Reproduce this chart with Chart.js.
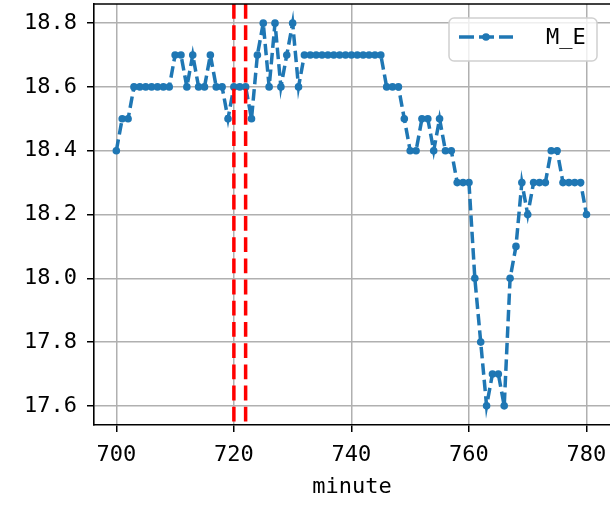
<!DOCTYPE html>
<html>
<head>
<meta charset="utf-8">
<script src="https://cdn.jsdelivr.net/npm/chart.js@4"></script>
<style>
  html, body { margin: 0; padding: 0; background: #fff; }
</style>
</head>
<body>
<canvas id="myChart" width="610" height="509"></canvas>
<script>
// minute-by-minute readings of M_E
const minutes = [700, 701, 702, 703, 704, 705, 706, 707, 708, 709,
                 710, 711, 712, 713, 714, 715, 716, 717, 718, 719,
                 720, 721, 722, 723, 724, 725, 726, 727, 728, 729,
                 730, 731, 732, 733, 734, 735, 736, 737, 738, 739,
                 740, 741, 742, 743, 744, 745, 746, 747, 748, 749,
                 750, 751, 752, 753, 754, 755, 756, 757, 758, 759,
                 760, 761, 762, 763, 764, 765, 766, 767, 768, 769,
                 770, 771, 772, 773, 774, 775, 776, 777, 778, 779, 780];
const me_values = [18.4, 18.5, 18.5, 18.6, 18.6, 18.6, 18.6, 18.6, 18.6, 18.6,
                   18.7, 18.7, 18.6, 18.7, 18.6, 18.6, 18.7, 18.6, 18.6, 18.5,
                   18.6, 18.6, 18.6, 18.5, 18.7, 18.8, 18.6, 18.8, 18.6, 18.7,
                   18.8, 18.6, 18.7, 18.7, 18.7, 18.7, 18.7, 18.7, 18.7, 18.7,
                   18.7, 18.7, 18.7, 18.7, 18.7, 18.7, 18.6, 18.6, 18.6, 18.5,
                   18.4, 18.4, 18.5, 18.5, 18.4, 18.5, 18.4, 18.4, 18.3, 18.3,
                   18.3, 18.0, 17.8, 17.6, 17.7, 17.7, 17.6, 18.0, 18.1, 18.3,
                   18.2, 18.3, 18.3, 18.3, 18.4, 18.4, 18.3, 18.3, 18.3, 18.3, 18.2];
const markLines = [720, 722];   // red dashed verticals
const xTicks = [700, 720, 740, 760, 780];
const yTicks = [17.6, 17.8, 18.0, 18.2, 18.4, 18.6, 18.8];
const xRange = [696.2, 784];
const yRange = [17.54, 18.86];
const seriesName = 'M_E';

const blue = '#1f77b4';
const fontFam = '"DejaVu Sans Mono", "Liberation Mono", monospace';
const fontSize = 22;

const points = minutes.map((m, i) => ({x: m, y: me_values[i]}));

// top spine, red verticals and the legend box
const extras = {
    id: 'extras',
    afterDatasetsDraw(chart) {
        const ctx = chart.ctx, a = chart.chartArea, xs = chart.scales.x;
        ctx.save();
        ctx.beginPath();
        ctx.rect(a.left, a.top, a.right - a.left, a.bottom - a.top);
        ctx.clip();
        ctx.strokeStyle = 'red';
        ctx.lineWidth = 3.5;
        ctx.setLineDash([14.8, 6.4]);
        for (const m of markLines) {
            const px = xs.getPixelForValue(m);
            ctx.beginPath();
            ctx.moveTo(px, a.top);
            ctx.lineTo(px, a.bottom);
            ctx.stroke();
        }
        ctx.restore();
    },
    afterDraw(chart) {
        const ctx = chart.ctx, a = chart.chartArea;
        ctx.save();
        ctx.strokeStyle = '#000';
        ctx.lineWidth = 1.6;
        ctx.beginPath();
        ctx.moveTo(a.left, a.top);
        ctx.lineTo(a.right, a.top);
        ctx.stroke();

        // legend
        const bx = 449, by = 18, bw = 148, bh = 43, r = 5;
        ctx.beginPath();
        ctx.moveTo(bx + r, by);
        ctx.arcTo(bx + bw, by, bx + bw, by + bh, r);
        ctx.arcTo(bx + bw, by + bh, bx, by + bh, r);
        ctx.arcTo(bx, by + bh, bx, by, r);
        ctx.arcTo(bx, by, bx + bw, by, r);
        ctx.closePath();
        ctx.fillStyle = 'rgba(255,255,255,0.8)';
        ctx.fill();
        ctx.strokeStyle = '#d0d0d0';
        ctx.lineWidth = 1.5;
        ctx.stroke();

        const ly = 37;
        ctx.strokeStyle = blue;
        ctx.lineWidth = 3.5;
        for (const seg of [[459, 474], [479, 494], [499, 513]]) {
            ctx.beginPath();
            ctx.moveTo(seg[0], ly);
            ctx.lineTo(seg[1], ly);
            ctx.stroke();
        }
        ctx.fillStyle = blue;
        ctx.beginPath();
        ctx.arc(486, ly, 3.8, 0, Math.PI * 2);
        ctx.fill();

        ctx.fillStyle = '#000';
        ctx.font = fontSize + 'px ' + fontFam;
        ctx.textBaseline = 'middle';
        ctx.textAlign = 'left';
        ctx.fillText(seriesName, 546, ly + 1);
        ctx.restore();
    }
};

const data = {datasets: [{
    label: seriesName,
    data: points,
    borderColor: blue,
    backgroundColor: blue,
    borderWidth: 3.5,
    borderDash: [11.5, 5],
    pointRadius: 3.8,
    pointHoverRadius: 3.8,
    pointBorderWidth: 0,
    tension: 0
}]};

const options = {
    responsive: false,
    animation: false,
    devicePixelRatio: 1,
    layout: {autoPadding: false, padding: {left: 0, right: 0, top: 4, bottom: 0}},
    plugins: {legend: {display: false}, tooltip: {enabled: false}},
    scales: {
        x: {
            type: 'linear',
            min: xRange[0],
            max: xRange[1],
            afterBuildTicks: s => { s.ticks = xTicks.map(v => ({value: v})); },
            afterFit: s => { s.height = 84; s.paddingLeft = 0; s.paddingRight = 0; },
            grid: {color: '#b0b0b0', lineWidth: 1.5, tickColor: '#000', tickWidth: 1.5, tickLength: 7},
            border: {color: '#000', width: 1.6},
            ticks: {color: '#000', font: {family: fontFam, size: fontSize}, padding: 10, maxRotation: 0},
            title: {display: true, text: 'minute', color: '#000', font: {family: fontFam, size: fontSize}, padding: {top: 0, bottom: 9}}
        },
        y: {
            type: 'linear',
            min: yRange[0],
            max: yRange[1],
            afterBuildTicks: s => { s.ticks = yTicks.map(v => ({value: v})); },
            afterFit: s => { s.width = 94; s.paddingTop = 0; s.paddingBottom = 0; },
            grid: {color: '#b0b0b0', lineWidth: 1.5, tickColor: '#000', tickWidth: 1.5, tickLength: 7},
            border: {color: '#000', width: 1.6},
            ticks: {color: '#000', font: {family: fontFam, size: fontSize}, padding: 10,
                    callback: v => v.toFixed(1)}
        }
    }
};

new Chart(document.getElementById('myChart'), {type: 'line', data: data, options: options, plugins: [extras]});
</script>
</body>
</html>
